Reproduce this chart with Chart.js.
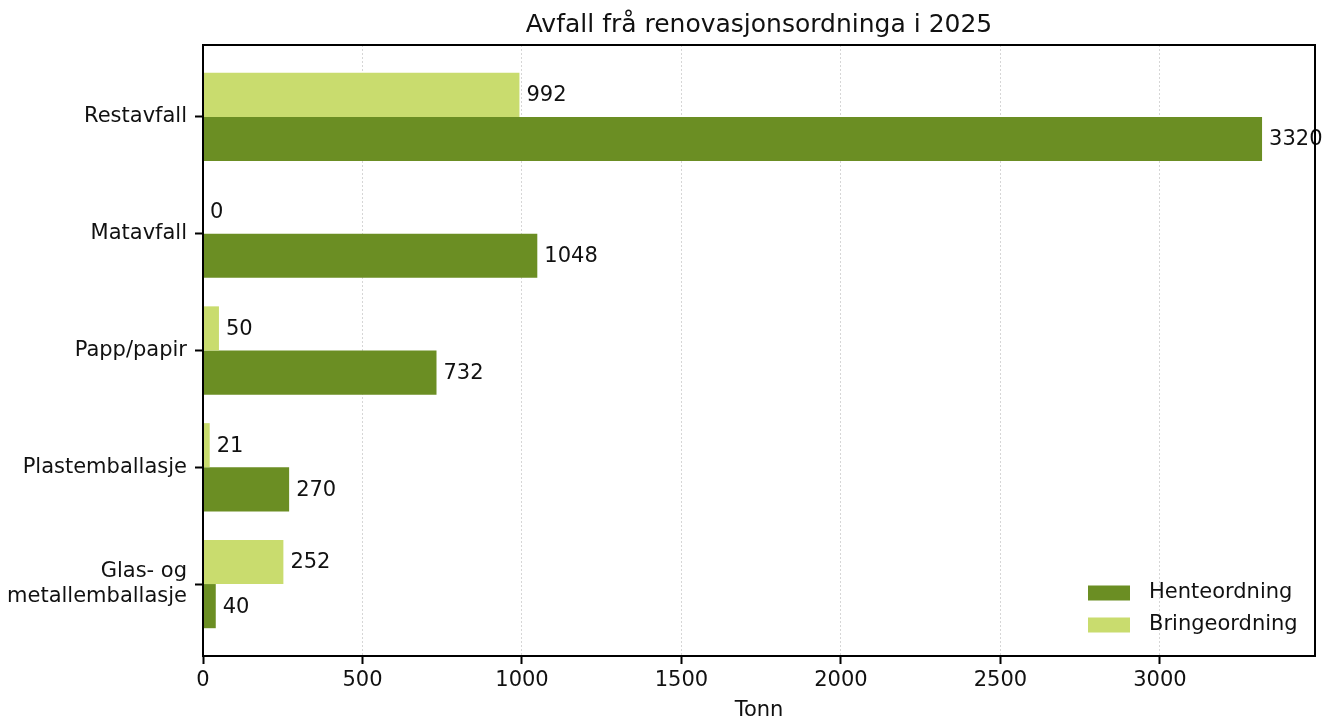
<!DOCTYPE html>
<html>
<head>
<meta charset="utf-8">
<script src="https://cdn.jsdelivr.net/npm/chart.js@4"></script>
<style>
html,body{margin:0;padding:0;background:#fff;}
canvas{display:block;}
</style>
</head>
<body>
<canvas id="c" width="1335" height="719"></canvas>
<script>
const categories = ['Restavfall', 'Matavfall', 'Papp/papir', 'Plastemballasje', ['Glas- og', 'metallemballasje']];
const henteordning = [3320, 1048, 732, 270, 40];
const bringeordning = [992, 0, 50, 21, 252];
const xTicks = [0, 500, 1000, 1500, 2000, 2500, 3000];
const titleText = 'Avfall frå renovasjonsordninga i 2025';
const xTitle = 'Tonn';

const DARK = '#6b8e23';
const LIGHT = '#c9dc6e';
const TEXT = '#111111';
const FONT = "'DejaVu Sans', sans-serif";

Chart.defaults.font.family = FONT;
Chart.defaults.color = TEXT;

const maxVal = Math.max(...henteordning, ...bringeordning);

const valueLabels = {
  id: 'valueLabels',
  afterDatasetsDraw(chart) {
    const ctx = chart.ctx;
    ctx.save();
    ctx.font = '21px ' + FONT;
    ctx.fillStyle = TEXT;
    ctx.textAlign = 'left';
    ctx.textBaseline = 'middle';
    chart.data.datasets.forEach((ds, di) => {
      const meta = chart.getDatasetMeta(di);
      meta.data.forEach((bar, i) => {
        ctx.fillText(String(ds.data[i].x), bar.x + 7, bar.y + 1);
      });
    });
    ctx.restore();
  }
};

const frameAndLegend = {
  id: 'frameAndLegend',
  afterDraw(chart) {
    const ctx = chart.ctx;
    const a = chart.chartArea;
    ctx.save();
    ctx.strokeStyle = '#000';
    ctx.lineWidth = 2;
    ctx.strokeRect(a.left, a.top, a.right - a.left, a.bottom - a.top);
    const items = chart.data.datasets.map(d => d).reverse();
    ctx.font = '21px ' + FONT;
    ctx.textAlign = 'left';
    ctx.textBaseline = 'middle';
    items.forEach((ds, k) => {
      const cy = a.bottom - 63 + k * 32;
      ctx.fillStyle = ds.backgroundColor;
      ctx.fillRect(a.right - 227, cy - 7.5, 42, 15);
      ctx.fillStyle = TEXT;
      ctx.fillText(ds.label, a.right - 166, cy);
    });
    ctx.restore();
  }
};

new Chart(document.getElementById('c'), {
  type: 'bar',
  data: {
    datasets: [
      { label: 'Bringeordning', data: bringeordning.map((v, i) => ({ x: v, y: i })), backgroundColor: LIGHT, borderWidth: 0 },
      { label: 'Henteordning', data: henteordning.map((v, i) => ({ x: v, y: i })), backgroundColor: DARK, borderWidth: 0 }
    ]
  },
  options: {
    indexAxis: 'y',
    responsive: false,
    devicePixelRatio: 1,
    animation: false,
    categoryPercentage: 0.756,
    barPercentage: 1.0,
    layout: { padding: { left: 0, right: 20, top: 0, bottom: 0 } },
    plugins: {
      legend: { display: false },
      tooltip: { enabled: false },
      title: {
        display: true,
        fullSize: false,
        text: titleText,
        color: TEXT,
        font: { size: 25, weight: 'normal', lineHeight: 1.2 },
        padding: { top: 10, bottom: 5 }
      }
    },
    scales: {
      x: {
        type: 'linear',
        min: 0,
        max: maxVal * 1.05,
        afterBuildTicks: s => { s.ticks = xTicks.map(v => ({ value: v })); },
        afterFit: s => { s.height = 63; },
        ticks: { font: { size: 21 }, color: TEXT, padding: 4, maxRotation: 0, callback: v => String(v) },
        grid: { display: true, drawOnChartArea: true, color: '#d6d6d6', lineWidth: 1, tickLength: 8, tickColor: '#000', tickWidth: 2 },
        border: { display: false, dash: [2, 2] },
        title: { display: true, text: xTitle, color: TEXT, font: { size: 21, lineHeight: 0.8 }, padding: { top: 0, bottom: 0 } }
      },
      y: {
        type: 'linear',
        reverse: true,
        offset: false,
        min: -0.616,
        max: 4.616,
        afterBuildTicks: s => { s.ticks = categories.map((c, i) => ({ value: i })); },
        afterFit: s => { s.width = 203; },
        ticks: { font: { size: 21, lineHeight: 1.2 }, color: TEXT, padding: 8, callback: v => categories[v] },
        grid: { display: true, offset: false, drawOnChartArea: false, drawTicks: true, tickLength: 8, tickColor: '#000', tickWidth: 2, color: '#000' },
        border: { display: false }
      }
    }
  },
  plugins: [valueLabels, frameAndLegend]
});
</script>
</body>
</html>
